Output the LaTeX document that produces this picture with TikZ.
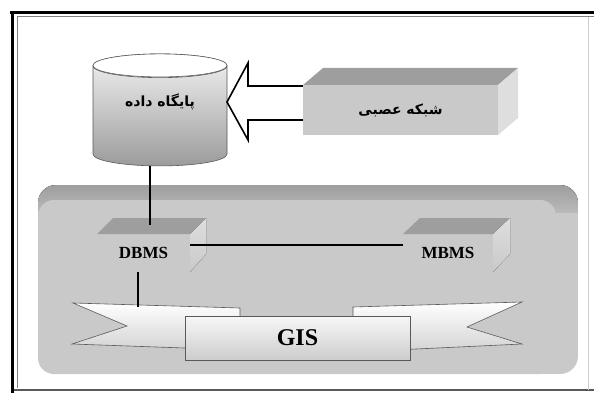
\documentclass[tikz,border=0pt]{standalone}
\usepackage{fontspec}
\setmainfont{Liberation Serif}
\newfontfamily\arabicfont[Script=Arabic]{DejaVu Sans}
\TeXXeTstate=1
\usetikzlibrary{shapes.geometric,calc}

\definecolor{facegray}{gray}{0.79}
\definecolor{topgray}{gray}{0.62}
\definecolor{sidegray}{gray}{0.87}
\definecolor{edgegray}{gray}{0.35}

\begin{document}
\begin{tikzpicture}[x=1pt,y=-1pt]

\tikzset{link/.style     = {line width=2pt, black},
         boxface/.style  = {fill=facegray, inner sep=0pt, outer sep=0pt},
         ribbon/.style   = {draw=edgegray, line width=0.6pt, top color=white, bottom color=gray!35},
         farsi/.style    = {font=\arabicfont\bfseries\fontsize{14}{16}\selectfont},
         latin/.style    = {font=\bfseries\fontsize{17}{20}\selectfont}}

\useasboundingbox (0,0) rectangle (594,393);
\fill[white] (0,0) rectangle (594,393);

\draw[gray, line width=1pt] (17,17) -- (594,17);
\draw[gray, line width=1pt] (17,17) -- (17,388);
\draw[edgegray, line width=1.5pt] (12,390) -- (594,390);
\draw[gray!40, line width=0.8pt] (588,17) -- (588,390);
\draw[black, line width=3pt] (10,13) -- (594,13);
\draw[black, line width=3pt] (12,12) -- (12,393);

\begin{scope}
  \clip[rounded corners=18pt] (38,185) rectangle (578,374);
  \fill[gray!42] (38,185) rectangle (578,374);
  \fill[top color=topgray, bottom color=gray!55] (38,185) rectangle (578,212);
\end{scope}
\fill[facegray, rounded corners=16pt] (38,200) rectangle (556,374);

\node[cylinder, shape border rotate=90, aspect=0.34, draw=edgegray, line width=0.6pt,
      minimum width=134pt, minimum height=112pt, inner sep=0pt, outer sep=0pt,
      top color=gray!10, bottom color=gray!78, farsi,
      text height=10pt, text depth=28pt] (db) at (160,116) {\beginR پایگاه داده\endR};
\draw[fill=white, draw=edgegray, line width=0.6pt] ($(db.top)+(0,11.5)$) ellipse [x radius=67pt, y radius=11.5pt];

\draw[fill=white, line width=1.6pt, line join=miter]
  (306,86) -- (248,86) -- (248,63) -- (227,102) -- (248,140) -- (248,120) -- (306,120);

\node[boxface, minimum width=195pt, minimum height=50pt, farsi] (nn) at (400.5,110) {\beginR شبکه عصبی\endR};
\fill[topgray] (nn.north west) -- ++(20,-17) -- ++(195,0) -- (nn.north east) -- cycle;
\fill[sidegray] (nn.north east) -- ++(20,-17) -- ++(0,50) -- (nn.south east) -- cycle;

\node[boxface, minimum width=93pt, minimum height=38pt, latin] (dbms) at (143.5,253) {DBMS};
\fill[topgray] (dbms.north west) -- ++(16,-16) -- ++(93,0) -- (dbms.north east) -- cycle;
\fill[top color=sidegray, bottom color=facegray] (dbms.north east) -- ++(16,-16) -- ++(0,36) -- (dbms.south east) -- cycle;

\node[boxface, minimum width=90pt, minimum height=38pt, latin] (mbms) at (448,253) {MBMS};
\fill[topgray] (mbms.north west) -- ++(17,-16) -- ++(90,0) -- (mbms.north east) -- cycle;
\fill[top color=sidegray, bottom color=facegray] (mbms.north east) -- ++(17,-16) -- ++(0,36) -- (mbms.south east) -- cycle;

\draw[ribbon] (73,303) -- (240,308) -- (240,350) -- (72,344) -- (127,326) -- cycle;
\draw[ribbon] (353,307) -- (522,302) -- (467,327) -- (522,344) -- (353,352) -- cycle;

\node[draw=edgegray, line width=0.6pt, top color=gray!6, bottom color=gray!40,
      minimum width=225pt, minimum height=44pt, inner sep=0pt,
      font=\bfseries\fontsize{24}{28}\selectfont] (gis) at (297.5,338) {GIS};

\coordinate (rtop) at (138,307);

\draw[link] ([xshift=-10pt]db.south) -- ([xshift=6.5pt,yshift=9pt]dbms.north);
\draw[link] ([yshift=8pt]dbms.east) -- ([yshift=8pt]mbms.west);
\draw[link] ([xshift=-5.5pt]dbms.south) -- (rtop);

\end{tikzpicture}
\end{document}
